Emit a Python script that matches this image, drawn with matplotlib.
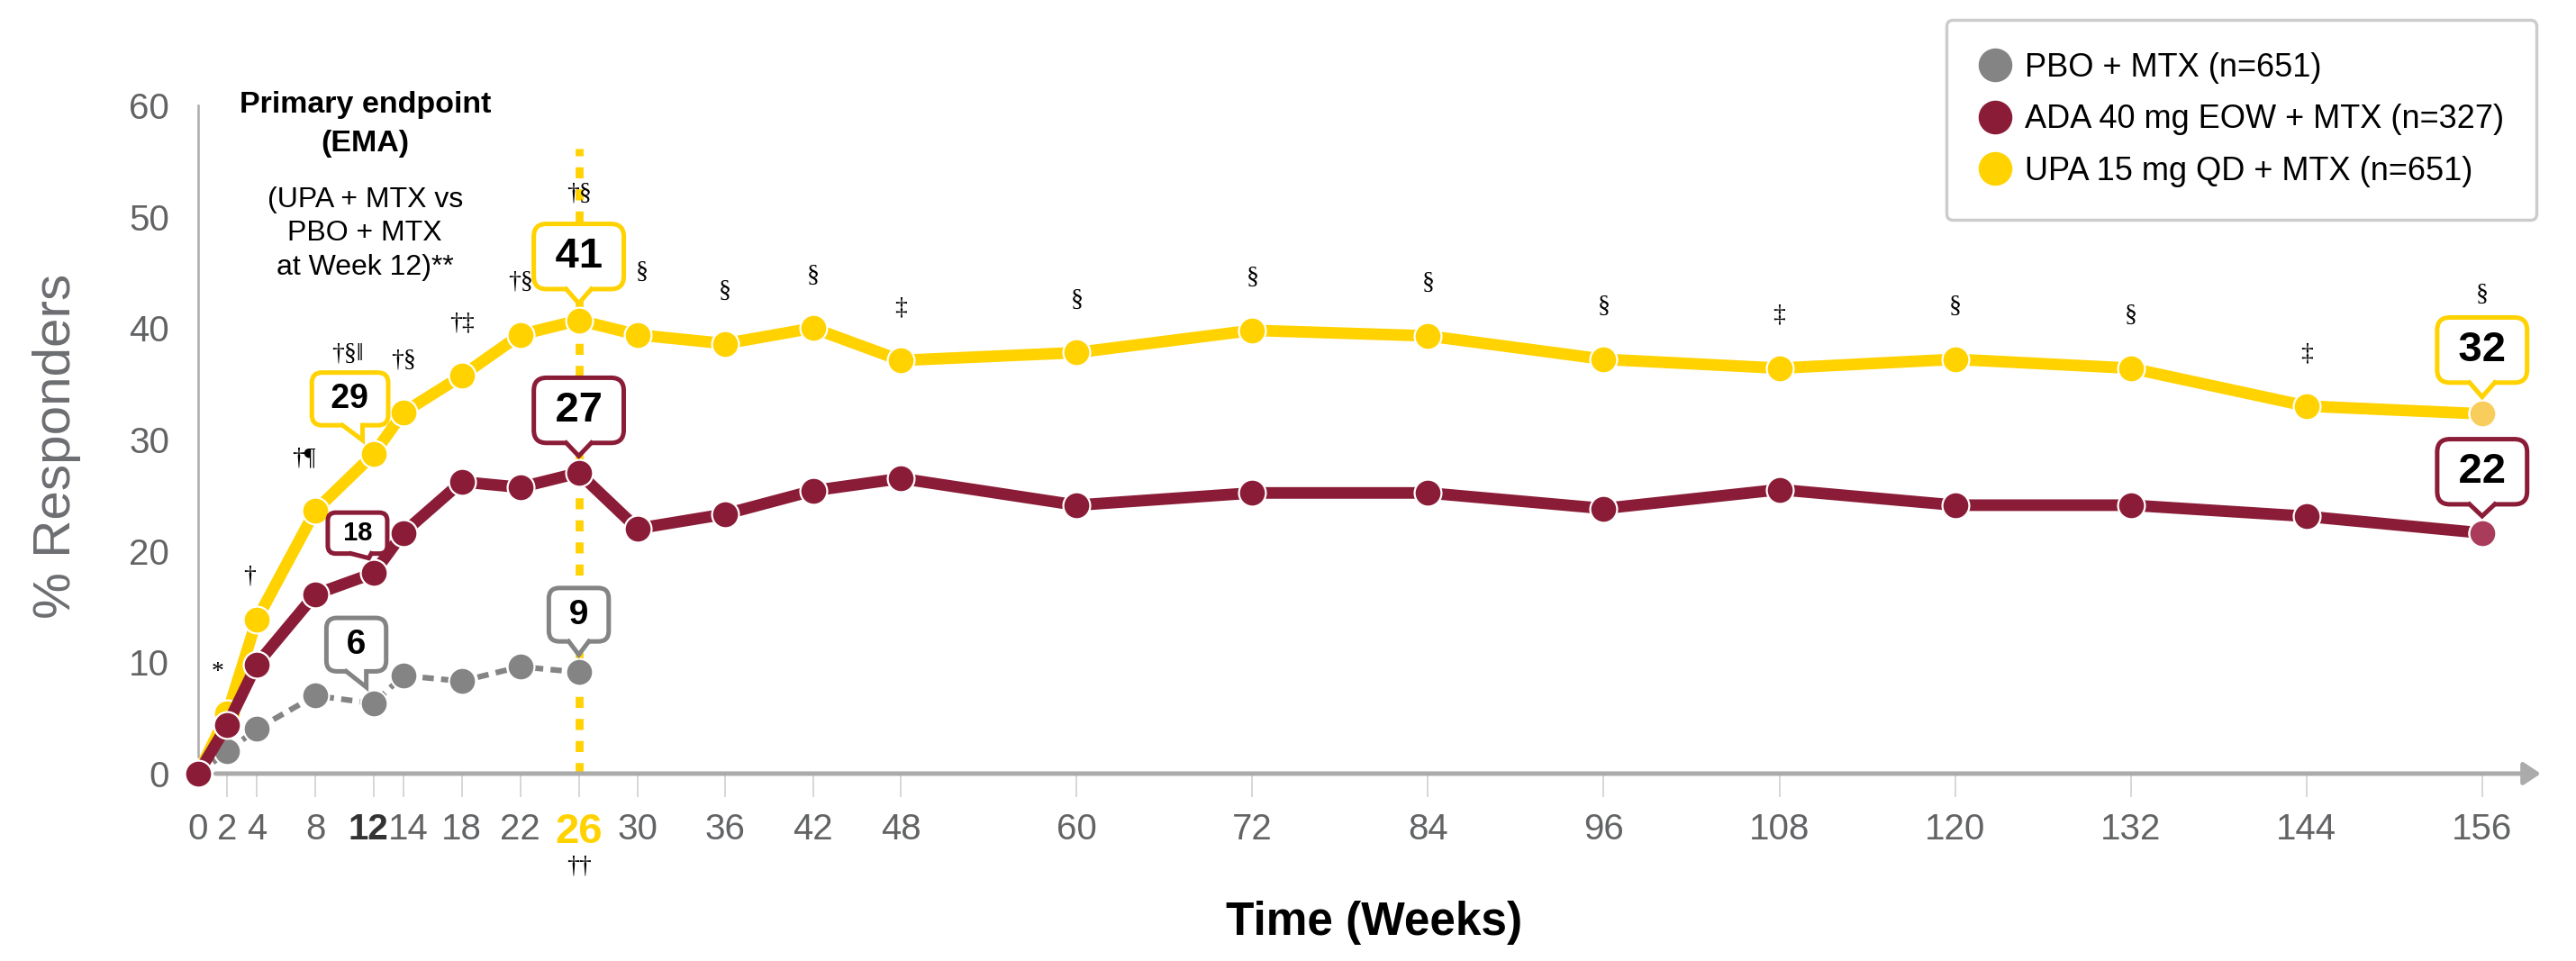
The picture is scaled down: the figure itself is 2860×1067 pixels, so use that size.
import numpy as np
import matplotlib.pyplot as plt
import matplotlib.transforms as mtransforms
from matplotlib.lines import Line2D
from matplotlib.patches import Polygon

plt.rcParams['font.family'] = ['Liberation Sans', 'DejaVu Sans']

# data
weeks = [0, 2, 4, 8, 12, 14, 18, 22, 26, 30, 36, 42, 48, 60, 72, 84, 96, 108, 120, 132, 144, 156]
upa = [0, 5.4, 13.8, 23.6, 28.7, 32.4, 35.7, 39.4, 40.7, 39.4, 38.6, 40.0, 37.1,
       37.8, 39.8, 39.3, 37.2, 36.4, 37.2, 36.4, 33.0, 32.3]
ada = [0, 4.4, 9.8, 16.1, 18.0, 21.6, 26.2, 25.7, 27.0, 22.0, 23.3, 25.4, 26.5,
       24.1, 25.2, 25.2, 23.8, 25.5, 24.1, 24.1, 23.1, 21.6]
pbo_weeks = [0, 2, 4, 8, 12, 14, 18, 22, 26]
pbo = [0, 2.0, 4.0, 7.0, 6.3, 8.8, 8.3, 9.6, 9.1]
upa_sig = ['', '*', '†', '†¶', '†§‖', '†§', '†‡', '†§', '†§', '§', '§', '§', '‡',
           '§', '§', '§', '§', '‡', '§', '§', '‡', '§']
labels = ['PBO + MTX (n=651)', 'ADA 40 mg EOW + MTX (n=327)', 'UPA 15 mg QD + MTX (n=651)']
endpoint_week = 26
week12 = 12

GREY = '#848484'
RED = '#8b1c37'
YEL = '#ffd200'
AXC = '#ababab'
TXT = '#616365'
SERIF = ['Liberation Serif', 'DejaVu Serif']

fig = plt.figure(figsize=(28.6, 10.67), dpi=100)
ax = fig.add_axes([0.0769, 0.195, 0.9094, 0.6954])
ax.set_xlim(0, 160)
ax.set_ylim(0, 60)

# week 26 reference line
ax.axvline(endpoint_week, ymin=0, ymax=0.935, color=YEL, lw=6.3,
           dashes=(1.4, 1.4), dash_capstyle='butt', zorder=1)

mk = dict(marker='o', ms=21.5, mec='white', mew=1.6, clip_on=False)
ax.plot(weeks, upa, color=YEL, lw=9.3, zorder=3, **mk)
ax.plot(pbo_weeks, pbo, color=GREY, lw=4.5, dashes=(2, 1.3), zorder=4, **mk)
ax.plot(weeks, ada, color=RED, lw=9.3, zorder=5, **mk)
# last points are shaded lighter
ax.plot(weeks[-1], upa[-1], color='#f8cd5c', zorder=5, **mk)
ax.plot(weeks[-1], ada[-1], color='#a93c5a', zorder=6, **mk)

# value callouts: box offset, tail tip offset from the point, tail base shift (points)
callouts = []


def callout(x, y, color, size, box, tip, base_dx=0, half=8, sp=' '):
    t = ax.annotate(f'{sp}{round(y)}{sp}', xy=(x, y), xytext=box, textcoords='offset points',
                    ha='center', va='center', fontsize=size, fontweight='bold', color='black',
                    bbox=dict(boxstyle='round,pad=0.3,rounding_size=0.3', fc='white', ec=color,
                              lw=3.6), zorder=7, annotation_clip=False)
    callouts.append((t, x, y, color, tip, base_dx, half))


i12 = weeks.index(week12)
i26 = weeks.index(endpoint_week)
big = dict(size=34, half=10, sp='\u2009')
callout(weeks[i26], upa[i26], YEL, box=(0, 51), tip=(0, 13.5), **big)
callout(weeks[i26], ada[i26], RED, box=(0, 50), tip=(0, 13.5), **big)
callout(weeks[-1], upa[-1], YEL, box=(0, 51), tip=(0, 13.5), **big)
callout(weeks[-1], ada[-1], RED, box=(0, 49), tip=(0, 13.5), **big)
callout(weeks[i12], upa[i12], YEL, 27, (-19, 44), (-9, 11), base_dx=2)
callout(weeks[i12], ada[i12], RED, 21, (-13, 32), (-4, 12), base_dx=3)
callout(pbo_weeks[i12], pbo[i12], GREY, 28, (-14, 47), (-6, 13))
callout(pbo_weeks[i26], pbo[i26], GREY, 28, (0, 46), (0, 14))

# significance symbols above the UPA points
sym_offset = {2: (-8, 33), 4: (-6, 35), 8: (-9, 42), 12: (-21, 80), 26: (0, 101), 30: (4, 50),
              156: (0, 95)}
for w, v, s in zip(weeks, upa, upa_sig):
    if not s:
        continue
    dx, dy = sym_offset.get(w, (0, 42))
    ax.annotate(s, xy=(w, v), xytext=(dx, dy), textcoords='offset points', ha='center',
                va='center', fontsize=20, family=SERIF, zorder=8, annotation_clip=False)

# primary endpoint note
ax.text(11.4, 61.3, 'Primary endpoint\n(EMA)', ha='center', va='top', fontsize=24.5,
        fontweight='bold', linespacing=1.5)
ax.text(11.4, 48.5, '(UPA + MTX vs\nPBO + MTX\nat Week 12)**', ha='center', va='center',
        fontsize=23, linespacing=1.32)

# axes styling
for s in ['top', 'right', 'bottom']:
    ax.spines[s].set_visible(False)
ax.spines['left'].set_color(AXC)
ax.spines['left'].set_linewidth(1.8)
ax.spines['left'].set_bounds(1.5, 60)
ax.annotate('', xy=(160, 0), xytext=(1.2, 0),
            arrowprops=dict(arrowstyle='-|>,head_length=0.45,head_width=0.3', color=AXC,
                            lw=3.6, shrinkA=0, shrinkB=0, mutation_scale=25),
            annotation_clip=False, zorder=2)

ax.set_yticks(range(0, 61, 10))
ax.tick_params(axis='y', length=0, pad=23, labelsize=29, labelcolor=TXT)
ax.set_xticks(weeks)
ax.set_xticklabels([str(w) for w in weeks])
ax.tick_params(axis='x', length=19, width=1.1, color='#cccccc', pad=12, labelsize=29,
               labelcolor=TXT)
ax.xaxis.get_major_ticks()[0].tick1line.set_visible(False)
tl = ax.get_xticklabels()
tl[i12].set_fontweight('bold')
tl[i12].set_color('#333333')
tl[i26].set_fontweight('bold')
tl[i26].set_color(YEL)
tl[i26].set_fontsize(34)
# nudge the crowded 12 / 14 labels apart
for idx, shift in ((i12, -4.5), (i12 + 1, 4)):
    tl[idx].set_transform(tl[idx].get_transform() +
                          mtransforms.ScaledTranslation(shift / 72, 0, fig.dpi_scale_trans))
ax.text(endpoint_week, -0.139, '††', transform=ax.get_xaxis_transform(), ha='center',
        va='center', fontsize=20, family=SERIF)

ax.set_ylabel('% Responders', fontsize=42, color='#6d6e71')
ax.yaxis.set_label_coords(-0.05, 0.49)
ax.set_xlabel('Time (Weeks)', fontsize=37, fontweight='bold', color='black')
ax.xaxis.set_label_coords(0.502, -0.19)

handles = [Line2D([], [], ls='none', marker='o', ms=26, color=c) for c in (GREY, RED, YEL)]
leg = ax.legend(handles, labels, loc='upper right', bbox_to_anchor=(2816 / 2860, 1 - 22 / 1067),
                bbox_transform=fig.transFigure, fontsize=26, frameon=True, fancybox=True,
                edgecolor='#cccccc', handlelength=1.0, handletextpad=0.4, borderpad=1.0,
                labelspacing=0.62, framealpha=1, borderaxespad=0)
leg.get_frame().set_linewidth(2.5)
leg.set_zorder(10)

# speech-bubble tails, built once the boxes have been laid out
fig.canvas.draw()
px = fig.dpi / 72
ident = mtransforms.IdentityTransform()
for t, x, y, color, tip, base_dx, half in callouts:
    bb = t.get_bbox_patch().get_window_extent()
    cx = (bb.x0 + bb.x1) / 2 + base_dx * px
    y0 = bb.y0
    ptx, pty = ax.transData.transform((x, y))
    tx, ty = ptx + tip[0] * px, pty + tip[1] * px
    hw = half * px
    ax.add_patch(Polygon([(cx - hw, y0 + 4), (cx - hw, y0), (tx, ty), (cx + hw, y0), (cx + hw, y0 + 4)],
                         closed=True, fc='white', ec='none', transform=ident, zorder=7.5,
                         clip_on=False))
    ax.add_line(Line2D([cx - hw, tx, cx + hw], [y0, ty, y0], color=color, lw=3.6,
                       solid_joinstyle='miter', transform=ident, zorder=7.6, clip_on=False))

fig.savefig('out.png', dpi=100)
